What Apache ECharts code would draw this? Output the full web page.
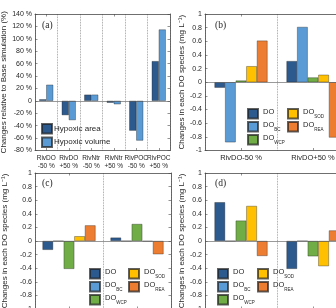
<!DOCTYPE html>
<html>
<head>
<meta charset="utf-8">
<script src="https://cdn.jsdelivr.net/npm/echarts@6/dist/echarts.min.js"></script>
<style>
    html, body { margin: 0; padding: 0; background: #fff; }
    #chart { width: 336px; height: 308px; }
</style>
</head>
<body>
<div id="chart"></div>
<script>
// panel (a): changes of hypoxia relative to base run (%)
var catsA = ['RivDO\n-50 %', 'RivDO\n+50 %', 'RivNtr\n-50 %', 'RivNtr\n+50 %', 'RivPOC\n-50 %', 'RivPOC\n+50 %'];
var hypoxicArea = [2.5, -23, 10, -3, -48, 64];
var hypoxicVolume = [26, -31, 10, -5.5, -64, 115];

// panels (b)-(d): changes in each DO species (mg/L), one row per species
var speciesNames = ['DO', 'DO_BC', 'DO_WCP', 'DO_SOD', 'DO_REA'];
var catsB = ['RivDO-50 %', 'RivDO+50 %'];
var catsC = ['RivNtr-50 %', 'RivNtr+50 %'];
var catsD = ['RivPOC-50 %', 'RivPOC+50 %'];
var speciesB = [[-0.08, 0.31], [-0.88, 0.81], [0.025, 0.07], [0.235, 0.11], [0.61, -0.81]];
var speciesC = [[-0.13, 0.05], [0, 0], [-0.41, 0.25], [0.07, -0.005], [0.23, -0.195]];
var speciesD = [[0.57, -0.41], [0, 0], [0.30, -0.225], [0.515, -0.37], [-0.22, 0.155]];

// y ticks
var pctMin = -80, pctMax = 140, pctStep = 20;
var mgMin = -1, mgMax = 1, mgStep = 0.2;

var ink = '#262626';
var frame = '#4a4a4a';
var font = 'Liberation Sans';
var edge = 'rgba(30,30,30,0.7)';
var colA = ['#2D5A8E', '#5B9BD5'];
var colSpecies = ['#2D5A8E', '#5B9BD5', '#70AD47', '#FFC000', '#ED7D31'];

var chart = echarts.init(document.getElementById('chart'));

// the source figure is cropped: (b)/(d) run past the right edge, (c)/(d) past the bottom
var grids = [
    {left: 35, top: 14, width: 135, height: 136.5, outerBoundsMode: 'none'},
    {left: 205, top: 14, width: 144, height: 136.5, outerBoundsMode: 'none'},
    {left: 35, top: 173, width: 136, height: 136, outerBoundsMode: 'none'},
    {left: 205, top: 173, width: 144, height: 136, outerBoundsMode: 'none'}
];

function bottomX(gi, cats, fs) {
    return {
        type: 'category', gridIndex: gi, data: cats, position: 'bottom',
        axisLine: {show: true, onZero: false, lineStyle: {color: frame, width: 0.8}},
        axisTick: {show: true, inside: true, alignWithLabel: true, length: 2.5, lineStyle: {color: frame, width: 0.6}},
        axisLabel: {interval: 0, color: ink, fontSize: fs, fontFamily: font, margin: 3, lineHeight: fs + 2},
        splitLine: {show: true, interval: 0, lineStyle: {type: 'dotted', color: '#8a8a8a', width: 0.8}}
    };
}
function topX(gi, cats) {
    return {
        type: 'category', gridIndex: gi, data: cats, position: 'top',
        axisLine: {show: true, onZero: false, lineStyle: {color: frame, width: 0.8}},
        axisTick: {show: true, inside: true, alignWithLabel: true, length: 2.5, lineStyle: {color: frame, width: 0.6}},
        axisLabel: {show: false},
        splitLine: {show: false}
    };
}
function leftY(gi, min, max, step, fmt, name, gap) {
    return {
        type: 'value', gridIndex: gi, position: 'left', min: min, max: max, interval: step,
        axisLine: {show: true, lineStyle: {color: frame, width: 0.8}},
        axisTick: {show: true, inside: true, length: 2.5, lineStyle: {color: frame, width: 0.6}},
        axisLabel: {color: ink, fontSize: 7, fontFamily: font, margin: 3, formatter: fmt},
        splitLine: {show: false},
        name: name, nameLocation: 'middle', nameRotate: 90, nameGap: gap,
        nameTextStyle: {color: ink, fontSize: 8, fontFamily: font}
    };
}
function rightY(gi, min, max, step) {
    return {
        type: 'value', gridIndex: gi, position: 'right', min: min, max: max, interval: step,
        axisLine: {show: true, lineStyle: {color: frame, width: 0.8}},
        axisTick: {show: true, inside: true, length: 2.5, lineStyle: {color: frame, width: 0.6}},
        axisLabel: {show: false},
        splitLine: {show: false}
    };
}

var pctFmt = function (v) { return v === 0 ? '0' : v + ' %'; };
var mgFmt = function (v) { return String(Math.round(v * 10) / 10); };
var mgName = 'Changes in each DO species (mg L\u207B\u00B9)';

var zeroLine = {
    silent: true, symbol: ['none', 'none'], label: {show: false},
    lineStyle: {color: '#555', width: 0.6, type: 'solid'},
    data: [{yAxis: 0}]
};

var series = [
    {name: 'Hypoxic area', type: 'bar', xAxisIndex: 0, yAxisIndex: 0, data: hypoxicArea,
        barWidth: 7, barGap: '0%', itemStyle: {color: colA[0], borderColor: edge, borderWidth: 0.5}, markLine: zeroLine},
    {name: 'Hypoxic volume', type: 'bar', xAxisIndex: 0, yAxisIndex: 0, data: hypoxicVolume,
        barWidth: 7, barGap: '0%', itemStyle: {color: colA[1], borderColor: edge, borderWidth: 0.5}}
];
[speciesB, speciesC, speciesD].forEach(function (rows, p) {
    var gi = p + 1;
    rows.forEach(function (vals, k) {
        var s = {
            name: speciesNames[k], type: 'bar', xAxisIndex: 2 * gi, yAxisIndex: 2 * gi, data: vals,
            barWidth: 10.6, barGap: '0%',
            itemStyle: {color: colSpecies[k], borderColor: edge, borderWidth: 0.5}
        };
        if (k === 0) s.markLine = zeroLine;
        series.push(s);
    });
});

var subFmt = function (name) {
    var p = name.split('_');
    return p.length > 1 ? '{m|' + p[0] + '}{s|' + p[1] + '}' : '{m|' + p[0] + '}';
};
function speciesLegend(names, left, top) {
    return {
        data: names, orient: 'vertical', left: left, top: top, padding: 0,
        itemWidth: 10, itemHeight: 9.5, itemGap: 1.5, icon: 'rect',
        formatter: subFmt,
        textStyle: {
            color: ink, fontFamily: font,
            rich: {
                m: {fontSize: 7.5, fontFamily: font, color: ink, padding: [0, 0, 3, 0]},
                s: {fontSize: 4.5, fontFamily: font, color: ink, verticalAlign: 'bottom'}
            }
        }
    };
}

var option = {
    animation: false,
    grid: grids,
    xAxis: [
        bottomX(0, catsA, 6.5), topX(0, catsA),
        bottomX(1, catsB, 7.5), topX(1, catsB),
        bottomX(2, catsC, 7.5), topX(2, catsC),
        bottomX(3, catsD, 7.5), topX(3, catsD)
    ],
    yAxis: [
        leftY(0, pctMin, pctMax, pctStep, pctFmt, 'Changes relative to Base simulation (%)', 25), rightY(0, pctMin, pctMax, pctStep),
        leftY(1, mgMin, mgMax, mgStep, mgFmt, mgName, 13), rightY(1, mgMin, mgMax, mgStep),
        leftY(2, mgMin, mgMax, mgStep, mgFmt, mgName, 26), rightY(2, mgMin, mgMax, mgStep),
        leftY(3, mgMin, mgMax, mgStep, mgFmt, mgName, 14), rightY(3, mgMin, mgMax, mgStep)
    ],
    legend: [
        {data: ['Hypoxic area', 'Hypoxic volume'], orient: 'vertical', left: 41, top: 123, padding: 0,
            itemWidth: 10, itemHeight: 9.5, itemGap: 2, icon: 'rect',
            textStyle: {color: ink, fontSize: 8, fontFamily: font, padding: [0, 0, 0, -3]}},
        speciesLegend(['DO', 'DO_BC', 'DO_WCP'], 247, 108),
        speciesLegend(['DO_SOD', 'DO_REA'], 287, 108),
        speciesLegend(['DO', 'DO_BC', 'DO_WCP'], 89, 268),
        speciesLegend(['DO_SOD', 'DO_REA'], 128, 268),
        speciesLegend(['DO', 'DO_BC', 'DO_WCP'], 217, 268),
        speciesLegend(['DO_SOD', 'DO_REA'], 257, 268)
    ],
    graphic: [
        {type: 'text', left: 42, top: 20, style: {text: '(a)', font: '9.5px "Liberation Serif"', fill: ink}},
        {type: 'text', left: 215, top: 20, style: {text: '(b)', font: '9.5px "Liberation Serif"', fill: ink}},
        {type: 'text', left: 42, top: 178, style: {text: '(c)', font: '9.5px "Liberation Serif"', fill: ink}},
        {type: 'text', left: 215, top: 178, style: {text: '(d)', font: '9.5px "Liberation Serif"', fill: ink}}
    ],
    series: series
};
chart.setOption(option);
</script>
</body>
</html>
